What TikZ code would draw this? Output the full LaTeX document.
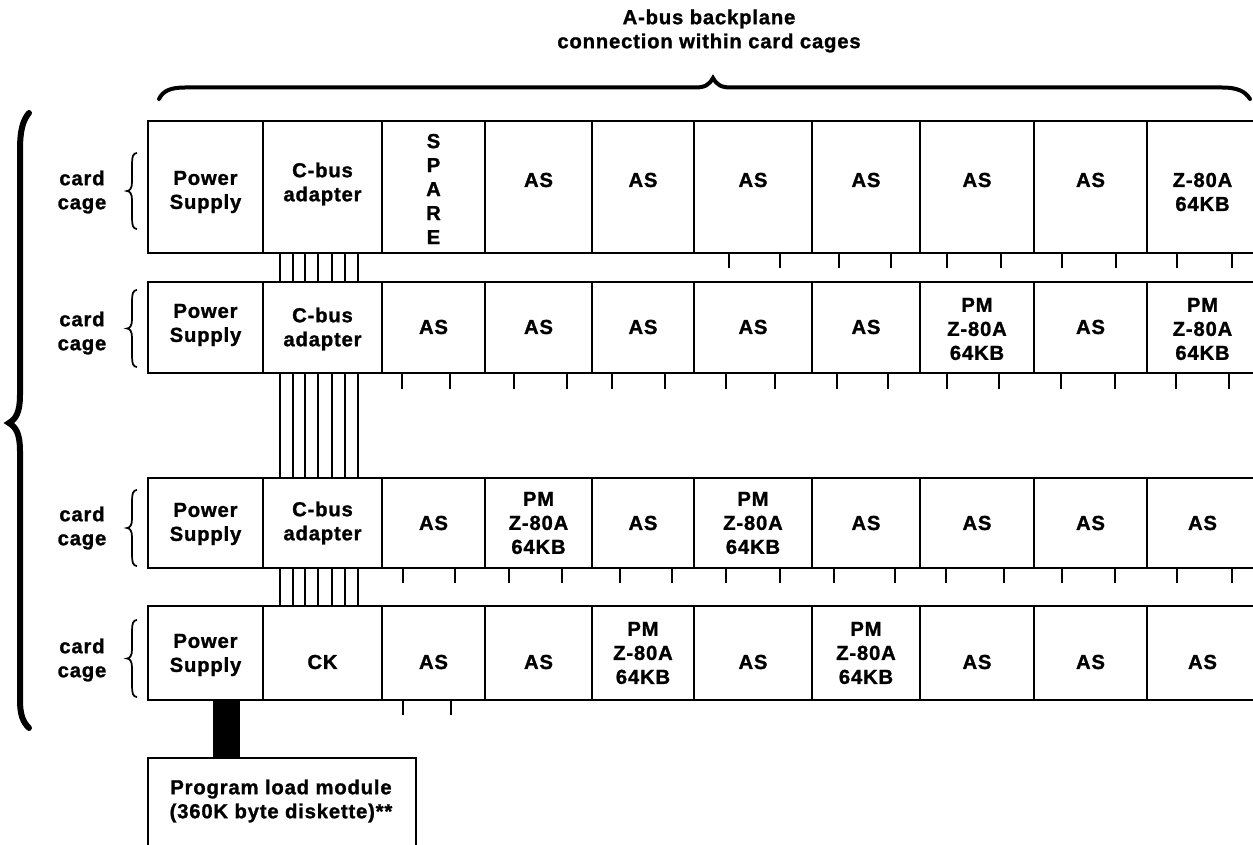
\documentclass[tikz,border=0pt]{standalone}
\usepackage{fontspec}
\setmainfont{Liberation Sans}[LetterSpace=4, BoldFeatures={FakeBold=1.2}]
\newcommand\cellbox[5]{\node[cellst, minimum width={(#3-#2)*0.75pt}, minimum height={(#5-#4)*0.75pt}] (#1) at ({(#2+#3)/2},{(#4+#5)/2}) {};}
\newcommand\lab[4]{\node[lbl] (#1) at (#2 |- 0,#3) {#4};}
\newcommand\cagebrace[2]{\draw[bracest] (137,#1) .. controls (133,#1) and (132,{#1+4}) .. (132,{#1+11}) -- (132,{(#1+#2)/2-9}) .. controls (132,{(#1+#2)/2-3}) and (130,{(#1+#2)/2}) .. (127,{(#1+#2)/2}) .. controls (130,{(#1+#2)/2}) and (132,{(#1+#2)/2+3}) .. (132,{(#1+#2)/2+9}) -- (132,{#2-11}) .. controls (132,{#2-4}) and (133,#2) .. (137,#2);}
\begin{document}
\begin{tikzpicture}[x=0.75pt,y=-0.75pt,
  cellst/.style={draw, line width=1.5pt, inner sep=0pt, outer sep=0pt},
  lbl/.style={align=center, inner sep=0pt, font=\fontsize{15.2}{18}\selectfont\bfseries},
  tickst/.style={line width=1.1pt},
  busst/.style={line width=1.1pt},
  bracest/.style={line width=1.3pt},
  bigbrace/.style={line width=3pt, line cap=round, line join=miter}]
\useasboundingbox (0,0) rectangle (1253,845);

% cells
\foreach \r/\ya/\yb in {1/121/253, 2/282/373, 3/478/568, 4/606/700} {
  \foreach \c/\xa/\xb in {1/148/263, 2/263/382, 3/382/485, 4/485/592, 5/592/694, 6/694/812, 7/812/920, 8/920/1034, 9/1034/1147, 10/1147/1258} {
    \cellbox{r\r c\c}{\xa}{\xb}{\ya}{\yb}
  }
}

% row 1 labels
\lab{t1c1}{r1c1}{192}{Power\\Supply}
\lab{t1c2}{r1c2}{184}{C-bus\\adapter}
\lab{t1c3}{r1c3}{189}{S\\P\\A\\R\\E}
\foreach \c in {4,...,9} {\lab{t1c\c}{r1c\c}{180}{AS}}
\lab{t1c10}{r1c10}{192}{Z-80A\\64KB}

% row 2 labels
\lab{t2c1}{r2c1}{325}{Power\\Supply}
\lab{t2c2}{r2c2}{329}{C-bus\\adapter}
\foreach \c in {3,...,7,9} {\lab{t2c\c}{r2c\c}{327}{AS}}
\lab{t2c8}{r2c8}{329}{PM\\Z-80A\\64KB}
\lab{t2c10}{r2c10}{329}{PM\\Z-80A\\64KB}

% row 3 labels
\lab{t3c1}{r3c1}{524}{Power\\Supply}
\lab{t3c2}{r3c2}{523}{C-bus\\adapter}
\foreach \c in {3,5,7,8,9,10} {\lab{t3c\c}{r3c\c}{523}{AS}}
\lab{t3c4}{r3c4}{523}{PM\\Z-80A\\64KB}
\lab{t3c6}{r3c6}{523}{PM\\Z-80A\\64KB}

% row 4 labels
\lab{t4c1}{r4c1}{655}{Power\\Supply}
\lab{t4c2}{r4c2}{662}{CK}
\foreach \c in {3,4,6,8,9,10} {\lab{t4c\c}{r4c\c}{662}{AS}}
\lab{t4c5}{r4c5}{653}{PM\\Z-80A\\64KB}
\lab{t4c7}{r4c7}{653}{PM\\Z-80A\\64KB}

% card cage labels and braces
\node[lbl] (cc1) at (82,192) {card\\cage};
\node[lbl] (cc2) at (82,333) {card\\cage};
\node[lbl] (cc3) at (82,528) {card\\cage};
\node[lbl] (cc4) at (82,660) {card\\cage};
\cagebrace{153}{229}
\cagebrace{290}{367}
\cagebrace{490}{566}
\cagebrace{620}{697}

% C-bus lines
\foreach \x in {280,293,305,318,332,345,358} {
  \draw[busst] (\x,0 |- r1c2.south) -- (\x,0 |- r2c2.north);
  \draw[busst] (\x,0 |- r2c2.south) -- (\x,0 |- r3c2.north);
  \draw[busst] (\x,0 |- r3c2.south) -- (\x,0 |- r4c2.north);
}

% A-bus ticks
\foreach \x in {729,780,839,891,947,1001,1062,1116,1177,1232}
  \draw[tickst] (\x,0 |- r1c1.south) -- ++(0,15);
\foreach \x in {402,450,514,567,612,665,726,775,837,888,947,999,1061,1115,1176,1229}
  \draw[tickst] (\x,0 |- r2c1.south) -- ++(0,16);
\foreach \x in {403,455,509,562,620,672,726,780,834,895,946,1004,1062,1115,1177,1232}
  \draw[tickst] (\x,0 |- r3c1.south) -- ++(0,15);
\foreach \x in {403,451}
  \draw[tickst] (\x,0 |- r4c1.south) -- ++(0,15);

% program load module
\node[minimum width={268*0.75pt}, minimum height={102*0.75pt}, inner sep=0pt, outer sep=0pt] (plm) at (282,809) {};
\draw[line width=1.5pt] (plm.south west) -- (plm.north west) -- (plm.north east) -- (plm.south east);
\node[lbl] (plmt) at (281,801) {Program load module\\(360K byte diskette)**};
\fill (213,0 |- r4c1.south) rectangle (240,0 |- plm.north);

% header
\node[lbl] (hdr) at (709,31) {A-bus backplane\\connection within card cages};

% top brace
\draw[bigbrace] (159,99) .. controls (163,91) and (170,87.5) .. (185,87.5) -- (695,87.5) .. controls (705,87.5) and (709,85) .. (713,78) .. controls (717,85) and (721,87.5) .. (731,87.5) -- (1222,87.5) .. controls (1237,87.5) and (1245,91) .. (1250,99);

% left big brace
\draw[bigbrace, line width=4.5pt] (29,113) .. controls (23,120) and (20,130) .. (20,150) -- (20,395) .. controls (20,412) and (16,419) .. (9,423) .. controls (16,427) and (20,434) .. (20,451) -- (20,700) .. controls (20,715) and (23,722) .. (29,728);
\end{tikzpicture}
\end{document}
